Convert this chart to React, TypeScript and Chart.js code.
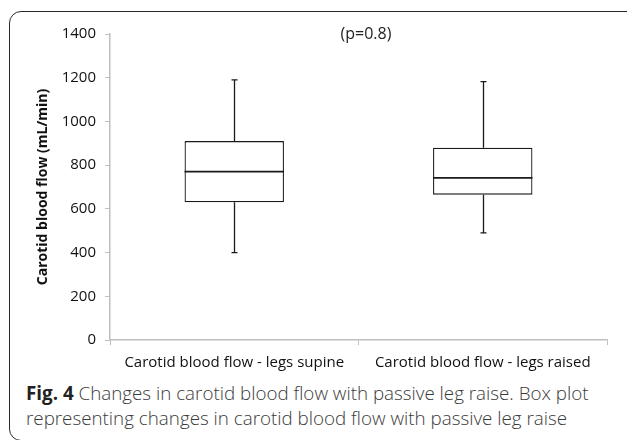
import React, { useEffect, useRef } from "react";
import { Chart, registerables } from "chart.js";

Chart.register(...registerables);

const categories = ["Carotid blood flow - legs supine", "Carotid blood flow - legs raised"];
const whiskerLow = [400, 490];
const q1Values = [630, 665];
const medianValues = [770, 742];
const q3Values = [910, 880];
const whiskerHigh = [1190, 1182];
const yTicks = [0, 200, 400, 600, 800, 1000, 1200, 1400];
const pValueLabel = "(p=0.8)";

const FONT = "'Open Sans', sans-serif";

const boxPlugin = {
  id: "boxWhiskers",
  afterDatasetsDraw(chart: any) {
    const ctx = chart.ctx;
    const x = chart.scales.x;
    const y = chart.scales.y;
    const meta = chart.getDatasetMeta(0);
    ctx.save();
    ctx.strokeStyle = "#1a1a1a";
    ctx.lineWidth = 1.3;
    meta.data.forEach((bar: any, i: number) => {
      const cx = Math.round(bar.x) + 0.5;
      const half = bar.width / 2;
      const capHalf = 3;
      const yLow = y.getPixelForValue(whiskerLow[i]);
      const yQ1 = y.getPixelForValue(q1Values[i]);
      const yMed = y.getPixelForValue(medianValues[i]);
      const yQ3 = y.getPixelForValue(q3Values[i]);
      const yHigh = y.getPixelForValue(whiskerHigh[i]);
      ctx.beginPath();
      ctx.moveTo(cx, yQ3);
      ctx.lineTo(cx, yHigh);
      ctx.moveTo(cx - capHalf, yHigh);
      ctx.lineTo(cx + capHalf, yHigh);
      ctx.moveTo(cx, yQ1);
      ctx.lineTo(cx, yLow);
      ctx.moveTo(cx - capHalf, yLow);
      ctx.lineTo(cx + capHalf, yLow);
      ctx.stroke();
      ctx.beginPath();
      ctx.lineWidth = 1.7;
      ctx.moveTo(bar.x - half, yMed);
      ctx.lineTo(bar.x + half, yMed);
      ctx.stroke();
      ctx.lineWidth = 1.3;
    });
    // p-value annotation
    ctx.fillStyle = "#222";
    ctx.font = "16px " + FONT;
    ctx.textAlign = "center";
    ctx.textBaseline = "middle";
    ctx.fillText(pValueLabel, x.getPixelForValue(0.53), y.getPixelForValue(yTicks[yTicks.length - 1]));
    ctx.restore();
  },
};

function App() {
  const ref = useRef<HTMLCanvasElement | null>(null);
  useEffect(() => {
    if (!ref.current) return;
    const chart = new Chart(ref.current, {
      type: "bar",
      data: {
        labels: categories,
        datasets: [
          {
            data: q1Values.map((q, i) => [q, q3Values[i]]) as any,
            backgroundColor: "#ffffff",
            borderColor: "#1a1a1a",
            borderWidth: 1.3,
            borderSkipped: false,
            barPercentage: 0.4,
            categoryPercentage: 1,
          },
        ],
      },
      options: {
        animation: false,
        responsive: false,
        maintainAspectRatio: false,
        layout: { padding: { left: 0, right: 20, top: 34, bottom: 0 } },
        plugins: { legend: { display: false }, tooltip: { enabled: false }, title: { display: false } },
        scales: {
          x: {
            grid: { drawOnChartArea: false, drawTicks: true, tickLength: 5, color: "#bfbfbf", offset: true },
            border: { color: "#bfbfbf", width: 1.5 },
            ticks: { color: "#111", font: { family: FONT, size: 15 }, padding: 9, maxRotation: 0 },
            afterFit: (s: any) => {
              s.height = 40;
            },
          },
          y: {
            min: 0,
            max: 1400,
            afterBuildTicks: (s: any) => {
              s.ticks = yTicks.map((v) => ({ value: v }));
            },
            grid: { drawOnChartArea: false, drawTicks: true, tickLength: 5, color: "#bfbfbf" },
            border: { color: "#bfbfbf", width: 1.5 },
            ticks: {
              color: "#111",
              font: { family: FONT, size: 15 },
              padding: 9,
              callback: (v: any) => String(v),
            },
            title: {
              display: true,
              text: "Carotid blood flow (mL/min)",
              color: "#111",
              font: { family: FONT, size: 14, weight: "bold" },
              padding: { top: 35, bottom: 0 },
            },
            afterFit: (s: any) => {
              s.width = 110;
            },
          },
        },
      },
      plugins: [boxPlugin],
    });
    return () => chart.destroy();
  }, []);

  return (
    <div style={{ position: "fixed", left: 0, top: 0, width: 627, height: 440, overflow: "hidden", background: "#fff" }}>
      <div
        style={{
          position: "absolute",
          left: 9,
          top: 11,
          width: 700,
          height: 430,
          border: "1.5px solid #2a2a2a",
          borderRadius: 12,
          boxSizing: "border-box",
        }}
      />
      <canvas ref={ref} width={627} height={380} style={{ position: "absolute", left: 0, top: 0, width: 627, height: 380 }} />
      <div
        style={{
          position: "absolute",
          left: 26,
          top: 381,
          width: 600,
          fontFamily: FONT,
          fontSize: 18.8,
          fontWeight: 300,
          lineHeight: "25px",
          color: "#3a3a3a",
          whiteSpace: "nowrap",
        }}
      >
        <div>
          <b style={{ color: "#222", fontWeight: 700 }}>Fig. 4</b> Changes in carotid blood flow with passive leg raise. Box plot
        </div>
        <div>representing changes in carotid blood flow with passive leg raise</div>
      </div>
    </div>
  );
}

export default App;
